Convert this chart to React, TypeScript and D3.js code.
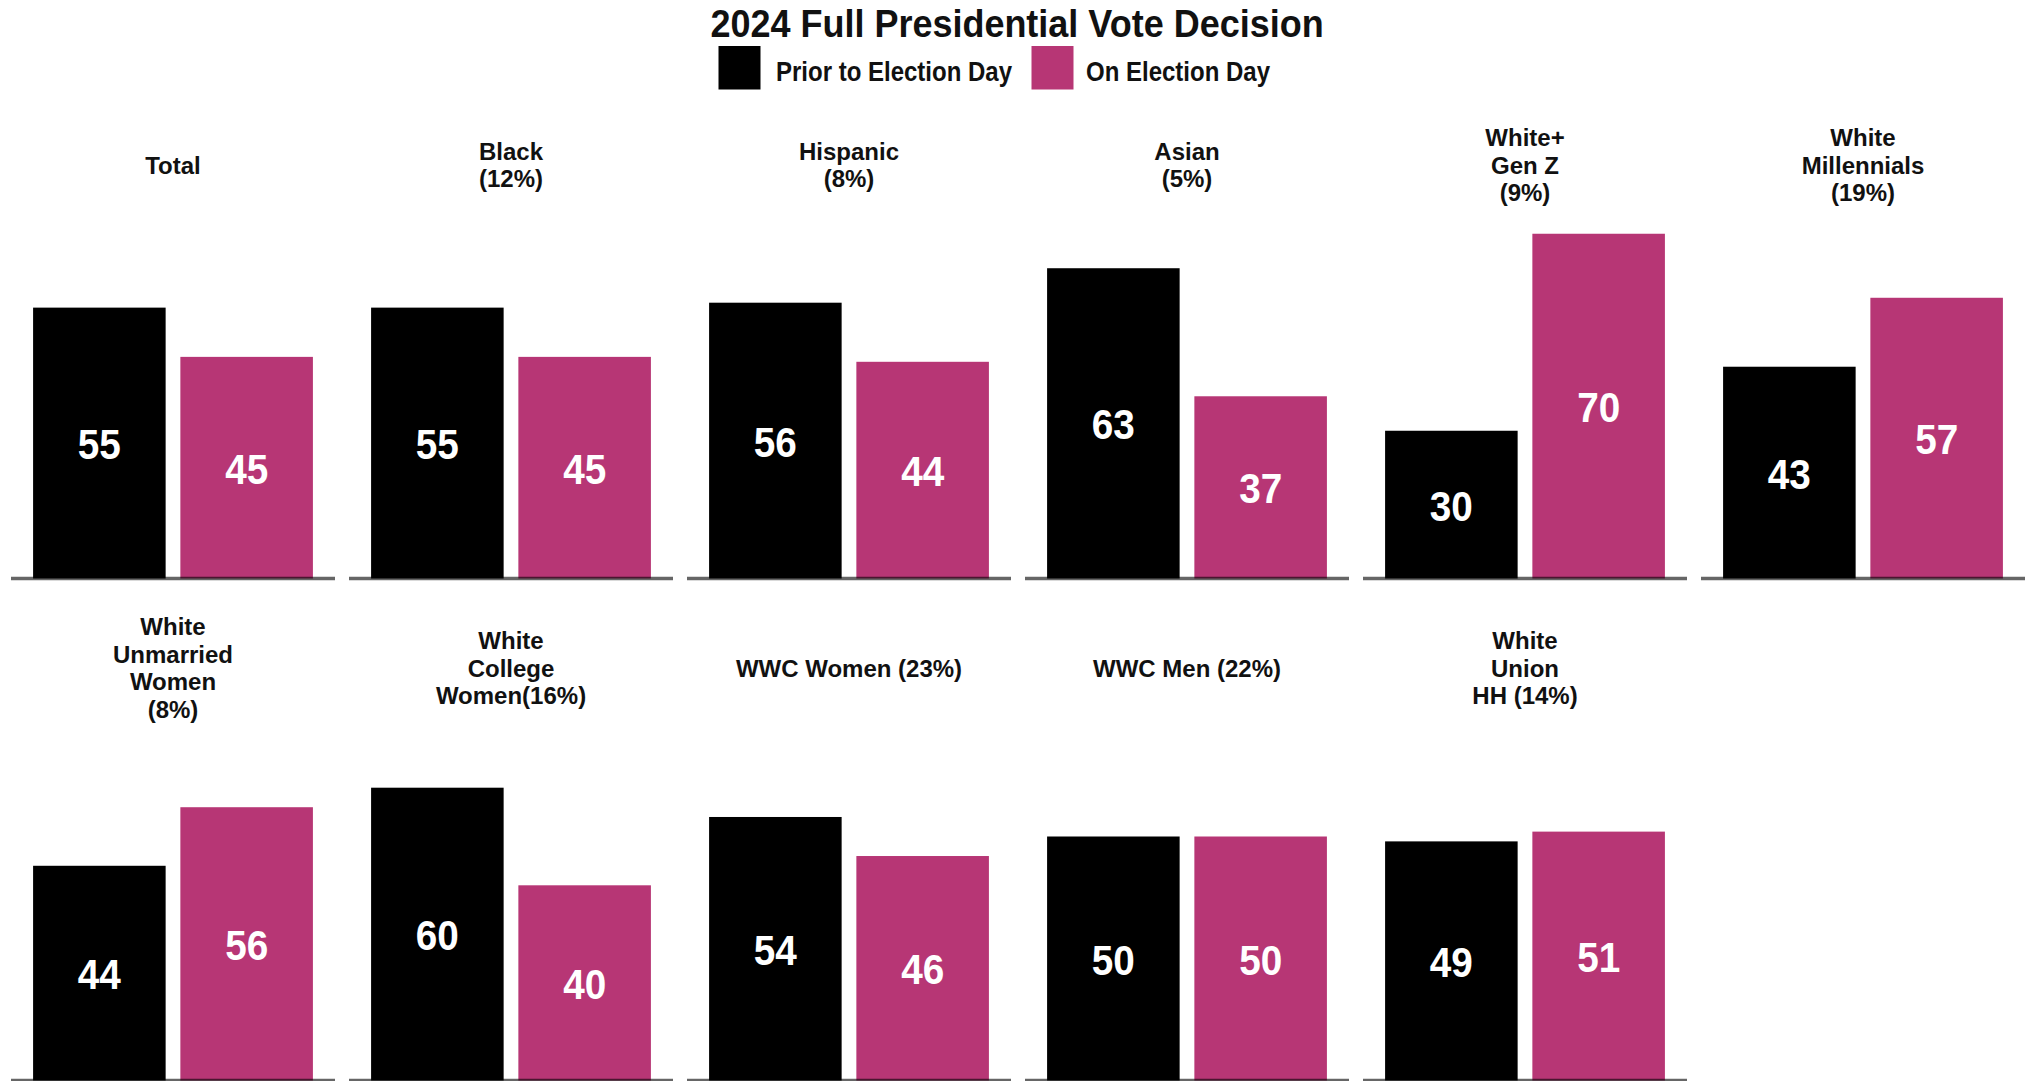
import React from "react";
import * as d3 from "d3";

const categories = [
  "Total",
  "Black\n(12%)",
  "Hispanic\n(8%)",
  "Asian\n(5%)",
  "White+\nGen Z\n(9%)",
  "White\nMillennials\n(19%)",
  "White\nUnmarried\nWomen\n(8%)",
  "White\nCollege\nWomen(16%)",
  "WWC Women (23%)",
  "WWC Men (22%)",
  "White\nUnion\nHH (14%)",
];
const priorValues = [55, 55, 56, 63, 30, 43, 44, 60, 54, 50, 49];
const onDayValues = [45, 45, 44, 37, 70, 57, 56, 40, 46, 50, 51];
const seriesNames = ["Prior to Election Day", "On Election Day"];
const seriesColors = ["#000000", "#B73675"];
const chartTitle = "2024 Full Presidential Vote Decision";

const W = 2034;
const H = 1081;
const FONT = "'Liberation Sans', Arial, Helvetica, sans-serif";
const NCOL = 6;
const rowBaselines = [578.5, 1080.5];
const rowPxPerUnit = [4.925, 4.88];
const stripCenters = [165, 668];
const LINE_H = 27.7;

export default function App() {
  const colScale = d3
    .scaleBand<number>()
    .domain(d3.range(NCOL))
    .range([11, 2025])
    .paddingInner(14 / 338)
    .paddingOuter(0);
  const panelW = colScale.bandwidth();
  const xInner = d3
    .scaleBand<string>()
    .domain(seriesNames)
    .range([0, panelW])
    .paddingInner(0.1)
    .paddingOuter(0.15);

  const panels = categories.map((cat, i) => {
    const row = Math.floor(i / NCOL);
    const col = i % NCOL;
    const x0 = colScale(col) as number;
    const base = rowBaselines[row];
    const y = d3
      .scaleLinear()
      .domain([0, 70])
      .range([base, base - 70 * rowPxPerUnit[row]]);
    const vals = [priorValues[i], onDayValues[i]];
    const lines = cat.split("\n");
    const cy = stripCenters[row];
    const firstBaseline = cy - ((lines.length - 1) * LINE_H) / 2 + 8.6;
    return (
      <g key={i} transform={`translate(${x0},0)`}>
        {lines.map((ln, k) => (
          <text
            key={k}
            x={panelW / 2}
            y={firstBaseline + k * LINE_H}
            textAnchor="middle"
            fontFamily={FONT}
            fontWeight="bold"
            fontSize={24}
            fill="#111"
          >
            {ln}
          </text>
        ))}
        {vals.map((v, s) => {
          const bx = xInner(seriesNames[s]) as number;
          const bw = xInner.bandwidth();
          const top = y(v);
          const mid = (top + y(0)) / 2;
          return (
            <g key={s}>
              <rect x={bx} y={top} width={bw} height={y(0) - top} fill={seriesColors[s]} />
              <text
                transform={`translate(${bx + bw / 2},${mid + 16}) scale(0.9,1)`}
                textAnchor="middle"
                fontFamily={FONT}
                fontWeight="bold"
                fontSize={43}
                fill="#ffffff"
              >
                {v}
              </text>
            </g>
          );
        })}
        <line
          x1={0}
          x2={panelW}
          y1={base}
          y2={base}
          stroke="rgba(0,0,0,0.6)"
          strokeWidth={3.5}
        />
      </g>
    );
  });

  const legendItems = [
    { x: 718.5, tx: 776 },
    { x: 1031.5, tx: 1086 },
  ];

  return (
    <svg
      width={W}
      height={H}
      viewBox={`0 0 ${W} ${H}`}
      style={{ position: "absolute", left: 0, top: 0, background: "#fff" }}
    >
      <rect x={0} y={0} width={W} height={H} fill="#ffffff" />
      <text
        transform={`translate(${W / 2},36.7) scale(1,1.06)`}
        textAnchor="middle"
        fontFamily={FONT}
        fontWeight="bold"
        fontSize={36}
        fill="#111"
      >
        {chartTitle}
      </text>
      {seriesNames.map((nm, s) => (
        <g key={nm}>
          <rect x={legendItems[s].x} y={46} width={42} height={43.5} fill={seriesColors[s]} />
          <text
            transform={`translate(${legendItems[s].tx},81) scale(1,1.15)`}
            fontFamily={FONT}
            fontWeight="bold"
            fontSize={24}
            fill="#111"
          >
            {nm}
          </text>
        </g>
      ))}
      {panels}
    </svg>
  );
}
